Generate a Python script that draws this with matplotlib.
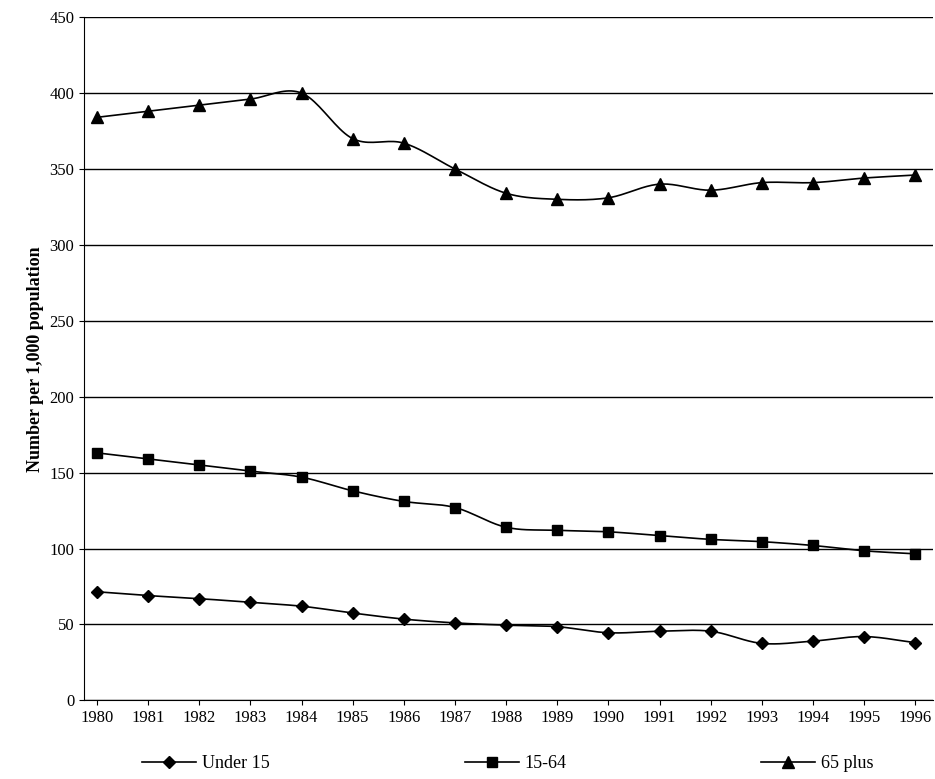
import numpy as np
import matplotlib.pyplot as plt

years = list(range(1980, 1997))
under15 = [71.5, 69, 67, 64.5, 62, 57.5, 53.5, 51, 49.5, 48.5, 44.5, 45.5, 45.5, 37.5, 39, 42, 38]
age15_64 = [163, 159, 155, 151, 147, 138, 131, 127, 114, 112, 111, 108.5, 106, 104.5, 102, 98.5, 96.5]
plus65 = [384, 388, 392, 396, 400, 370, 367, 350, 334, 330, 331, 340, 336, 341, 341, 344, 346]

plt.rcParams['font.family'] = ['Liberation Serif', 'DejaVu Serif']


def smooth(x, y, n=20):
    # catmull-rom style curve through the points, like excel smoothed lines
    x = np.asarray(x, float)
    y = np.asarray(y, float)
    m = np.gradient(y, x)
    xs, ys = [], []
    for i in range(len(x) - 1):
        h = x[i + 1] - x[i]
        t = np.linspace(0, 1, n, endpoint=False)
        h00 = 2 * t**3 - 3 * t**2 + 1
        h10 = t**3 - 2 * t**2 + t
        h01 = -2 * t**3 + 3 * t**2
        h11 = t**3 - t**2
        xs.append(x[i] + t * h)
        ys.append(h00 * y[i] + h10 * h * m[i] + h01 * y[i + 1] + h11 * h * m[i + 1])
    xs.append([x[-1]])
    ys.append([y[-1]])
    return np.concatenate(xs), np.concatenate(ys)


fig = plt.figure(figsize=(9.35, 7.79), dpi=100)
ax = fig.add_axes([0.09, 0.101, 0.908, 0.877])

series = [(under15, 'D', 'Under 15', 6), (age15_64, 's', '15-64', 7), (plus65, '^', '65 plus', 8)]
handles = []
for vals, mk, label, ms in series:
    sx, sy = smooth(years, vals)
    ax.plot(sx, sy, color='black', lw=1.2)
    ax.plot(years, vals, linestyle='none', marker=mk, color='black', ms=ms)
    h, = ax.plot([], [], color='black', lw=1.2, marker=mk, ms=ms, label=label)
    handles.append(h)

ax.set_xlim(1979.75, 1996.35)
ax.set_ylim(0, 450)
ax.set_yticks(range(0, 451, 50))
ax.set_xticks(years)
ax.grid(axis='y', color='black', lw=1)
ax.set_axisbelow(True)
for s in ['top', 'right']:
    ax.spines[s].set_visible(False)
ax.tick_params(labelsize=12)
ax.set_ylabel('Number per 1,000 population', fontsize=13, fontweight='bold')

fig.legend(handles=handles, loc='lower center', ncol=3, frameon=False, fontsize=13,
           bbox_to_anchor=(0.543, -0.012), columnspacing=10.8, handlelength=3.0,
           handletextpad=0.3)

fig.savefig('out.png', dpi=100)
